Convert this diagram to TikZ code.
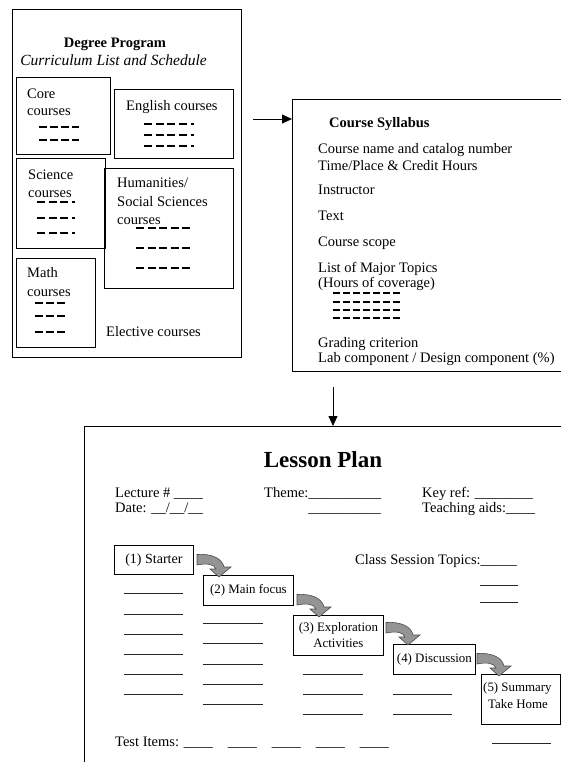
\documentclass[tikz,border=0pt]{standalone}
\usepackage{fontspec}
\setmainfont{Liberation Serif}
\usetikzlibrary{arrows.meta,calc}
\begin{document}
\begin{tikzpicture}[x=1pt,y=-1pt,
 every node/.style={inner sep=0pt},
 txt/.style={anchor=base west, font=\fontsize{14.5}{17}\selectfont},
 box/.style={draw, line width=0.8pt, anchor=north west},
 dsh/.style={line width=1.6pt, dash pattern=on 7.5pt off 3.5pt},
 blank/.style={line width=0.7pt, draw=black!85},
 curv/.style={fill=black!42, draw=black!70, line width=0.6pt},
 ptr/.style={line width=0.8pt, -{Triangle[length=10pt,width=9pt]}},
 small/.style={font=\fontsize{12.9}{16}\selectfont, align=center}]
\useasboundingbox (0,0) rectangle (561,762);

% ---------- Degree Program ----------
\node[box, minimum width=229.5pt, minimum height=348pt] (deg) at (11.7,9.3) {};
\node[anchor=base, font=\fontsize{14.5}{17}\selectfont\bfseries] (degT) at (115,47.5) {Degree Program};
\node[anchor=base, font=\fontsize{15.5}{17}\selectfont\itshape] (degS) at (113.5,65.5) {Curriculum List and Schedule};

\node[box, minimum width=94pt, minimum height=77pt] (core) at (16,77) {};
\node[txt] (coreA) at (27,98.5) {Core};
\node[txt] (coreB) at (27,115.5) {courses};
\draw[dsh] (39,127) -- (79,127);
\draw[dsh] (39,140) -- (79,140);

\node[box, minimum width=119pt, minimum height=69pt] (eng) at (114,89) {};
\node[txt] (engA) at (126,110.5) {English courses};
\foreach \yy in {124,135,146} \draw[dsh, dash pattern=on 8pt off 3.7pt] (144,\yy) -- (194,\yy);

\node[box, minimum width=89pt, minimum height=90pt] (sci) at (16,158) {};
\node[txt] (sciA) at (28,179.5) {Science};
\node[txt] (sciB) at (28,197.5) {courses};
\foreach \yy in {202,218,233} \draw[dsh, dash pattern=on 8pt off 3.7pt] (37,\yy) -- (75,\yy);

\node[box, minimum width=129pt, minimum height=120pt] (hum) at (104,168) {};
\node[txt] (humA) at (117,187.5) {Humanities/};
\node[txt] (humB) at (117,206) {Social Sciences};
\node[txt] (humC) at (117,224.5) {courses};
\foreach \yy in {228,248,268} \draw[dsh, dash pattern=on 8pt off 3.5pt] (136,\yy) -- (190,\yy);

\node[box, minimum width=79pt, minimum height=89pt] (math) at (16,258) {};
\node[txt] (mathA) at (27,277.5) {Math};
\node[txt] (mathB) at (27,296.5) {courses};
\foreach \yy in {303,316,332} \draw[dsh, dash pattern=on 8pt off 3pt] (35,\yy) -- (65,\yy);

\node[txt] (elec) at (106,336.5) {Elective courses};

% ---------- Course Syllabus ----------
\coordinate (sylA) at (561,99);
\coordinate (sylB) at (292,99);
\coordinate (sylC) at (292,371);
\coordinate (sylD) at (561,371);
\draw[line width=0.8pt] (sylA) -- (sylB) -- (sylC) -- (sylD);
\coordinate (ar1) at (253,119);
\draw[ptr] (ar1) -- (ar1 -| sylB);

\node[txt, font=\fontsize{14.5}{17}\selectfont\bfseries] (syT) at (329,127.5) {Course Syllabus};
\node[txt] (sy1) at (318,153.5) {Course name and catalog number};
\node[txt] (sy2) at (318,170.5) {Time/Place \& Credit Hours};
\node[txt] (sy3) at (318,194.5) {Instructor};
\node[txt] (sy4) at (318,220.5) {Text};
\node[txt] (sy5) at (318,246.5) {Course scope};
\node[txt] (sy6) at (318,272.5) {List of Major Topics};
\node[txt] (sy7) at (318,287) {(Hours of coverage)};
\foreach \yy in {293,302,310,318} \draw[dsh, line width=1.4pt, dash pattern=on 7pt off 3pt] (333,\yy) -- (403,\yy);
\node[txt] (sy8) at (318,347.5) {Grading criterion};
\node[txt] (sy9) at (318,362.5) {Lab component / Design component (\%)};

% ---------- Lesson Plan ----------
\coordinate (lpA) at (561,426);
\coordinate (lpB) at (84,426);
\coordinate (lpC) at (84,762);
\draw[line width=0.8pt] (lpA) -- (lpB) -- (lpC);
\coordinate (ar2) at (333,387);
\draw[ptr] (ar2) -- (ar2 |- lpB);

\node[anchor=base, font=\fontsize{23}{26}\selectfont\bfseries] (lpT) at (323,467) {Lesson Plan};
\node[txt] (lp1) at (115,497.5) {Lecture \# \_\_\_\_};
\node[txt] (lp2) at (115,512.5) {Date: \_\_/\_\_/\_\_};
\node[txt] (lp3) at (264,497.5) {Theme:\_\_\_\_\_\_\_\_\_\_};
\node[txt, anchor=base east] (lp4) at (381,512.5) {\_\_\_\_\_\_\_\_\_\_};
\node[txt] (lp5) at (422,497.5) {Key ref: \_\_\_\_\_\_\_\_};
\node[txt] (lp6) at (422,512.5) {Teaching aids:\_\_\_\_};
\node[txt] (lp7) at (355,564.5) {Class Session Topics:\_\_\_\_\_};
\node[txt] (lp8) at (115,746.5) {Test Items: \_\_\_\_\hspace{15pt}\_\_\_\_\hspace{15pt}\_\_\_\_\hspace{15pt}\_\_\_\_\hspace{15pt}\_\_\_\_};

\node[box, small, font=\fontsize{14}{15}\selectfont, minimum width=79pt, minimum height=29pt] (s1) at (114,545) {(1) Starter};
\node[box, small, minimum width=90pt, minimum height=30pt] (s2) at (203,575) {(2) Main focus};
\node[box, small, minimum width=90pt, minimum height=40pt] (s3) at (293,615) {(3) Exploration\\Activities};
\node[box, small, minimum width=82pt, minimum height=30pt] (s4) at (393,644) {(4) Discussion};
\node[box, minimum width=79pt, minimum height=50pt] (s5) at (481,674) {};
\node[anchor=north west, small, font=\fontsize{12.9}{17}\selectfont, align=left] (s5t) at ([shift={(2,8)}]s5.north west) {(5) Summary\\\hspace*{5pt}Take Home};

\coordinate (c1) at (197,560);
\coordinate (c2) at (297,600);
\coordinate (c3) at (386,628);
\coordinate (c4) at (477,659);
\foreach \c in {c1,c2,c3,c4}
  \draw[curv, shift={(\c)}] (0,-5.5) .. controls (14,-6.5) and (25,-2) .. (27,7) -- (34,7) -- (22,17) -- (13,9) -- (19,9) .. controls (17,4) and (10,3) .. (0,5) -- cycle;

% blank lines
\foreach \yy in {593,614,634,654,674,694} \draw[blank] (124,\yy) -- (183,\yy);
\foreach \yy in {623,643,664,684,704} \draw[blank] (203,\yy) -- (263,\yy);
\foreach \yy in {674,694,714} \draw[blank] (303,\yy) -- (363,\yy);
\foreach \yy in {694,714} \draw[blank] (393,\yy) -- (452,\yy);
\foreach \yy in {585,602} \draw[blank] (480,\yy) -- (518,\yy);
\draw[blank] (492,743) -- (551,743);
\end{tikzpicture}
\end{document}
